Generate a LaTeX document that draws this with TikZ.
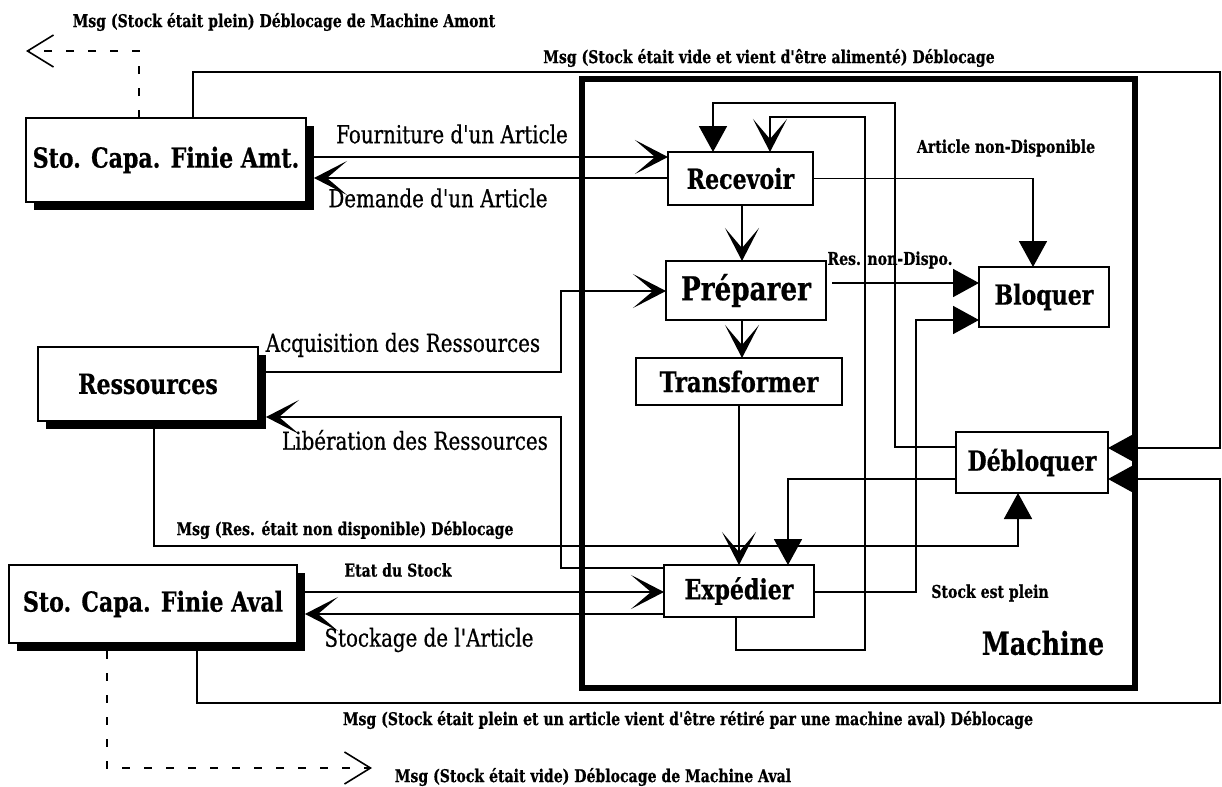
\documentclass[tikz,border=0pt]{standalone}
\usepackage{fontspec}
\newfontfamily\dvs{DejaVu Serif}[FakeStretch=0.8, FakeBold=0.6]
\usetikzlibrary{arrows.meta,shadows,calc}
\newcommand{\myboxfont}{\dvs\bfseries\fontsize{13.8}{16}\selectfont}
\newcommand{\mymedfont}{\dvs\fontsize{12.4}{14}\selectfont}
\newcommand{\mysmallfont}{\dvs\bfseries\fontsize{8.8}{10}\selectfont}
\begin{document}
\begin{tikzpicture}[x=0.5pt,y=-0.5pt,
  conn/.style={line width=0.9pt},
  chev/.style={-{Stealth[length=16.5pt,width=17pt,inset=10pt]}},
  tri/.style={-{Triangle[length=13pt,width=14pt]}},
  barb/.style={-{Straight Barb[length=13pt,width=16pt]}},
  dashline/.style={line width=0.8pt, dash pattern=on 4pt off 7pt},
  blk/.style={draw, line width=1pt, fill=white, inner sep=0pt, outer sep=0pt, font=\myboxfont},
  shad/.style={general shadow={fill=black, shadow xshift=4pt, shadow yshift=-4pt}},
  smalllab/.style={inner sep=0pt, font=\mysmallfont},
  medlab/.style={inner sep=0pt, font=\mymedfont}]
\useasboundingbox[fill=white] (0,0) rectangle (1222,787);

% machine frame
\node[draw, line width=3pt, inner sep=0pt, outer sep=0pt, minimum width=276.5pt, minimum height=304.5pt] (machine) at (858.5,383.5) {};

% boxes
\node[blk, shad, minimum width=140pt, minimum height=42pt] (amt) at (166,160) {Sto. Capa. Finie Amt.};
\node[blk, shad, minimum width=110pt, minimum height=37pt] (res) at (148,384) {Ressources};
\node[blk, shad, minimum width=144pt, minimum height=39pt] (aval) at (153,604) {Sto. Capa. Finie Aval};
\node[blk, minimum width=72.5pt, minimum height=26.5pt] (recv) at (740.5,178.5) {Recevoir};
\node[blk, minimum width=80pt, minimum height=29.5pt, font=\dvs\bfseries\fontsize{16.4}{18}\selectfont] (prep) at (746,290.5) {Préparer};
\node[blk, minimum width=103pt, minimum height=23.5pt, font=\dvs\bfseries\fontsize{14.2}{16}\selectfont] (trans) at (739,381.5) {Transformer};
\node[blk, minimum width=75pt, minimum height=26pt] (exped) at (739,591) {Expédier};
\node[blk, minimum width=65pt, minimum height=30pt] (bloq) at (1044,297) {Bloquer};
\node[blk, minimum width=76pt, minimum height=30.5pt] (debloq) at (1032,462.5) {Débloquer};

% connectors
\draw[conn,chev] (amt.east |- 0,157) -- (recv.west |- 0,157);
\draw[conn,chev] (recv.west |- 0,178) -- ($(amt.east |- 0,178)+(8,0)$);
\draw[conn,chev] (742,0 |- recv.south) -- (742,0 |- prep.north);
\draw[conn,chev] (742,0 |- prep.south) -- (742,0 |- trans.north);
\draw[conn,chev] (739,0 |- trans.south) -- (739,0 |- exped.north);
\draw[conn,tri] (recv.east) -| (1033,0 |- bloq.north);
\draw[conn,tri] ($(prep.east |- 0,283)+(6,0)$) -- (bloq.west |- 0,283);
\draw[conn,tri] (exped.east |- 0,592) -| (916,320) -- (bloq.west |- 0,320);
\draw[conn,tri] (debloq.west |- 0,447) -| (895,103) -| (713,0 |- recv.north);
\draw[conn,chev] (736,0 |- exped.south) |- (865,650) |- (770,117) -- (770,0 |- recv.north);
\draw[conn,tri] (debloq.west |- 0,479) -| (788,0 |- exped.north);
\draw[conn,chev] (res.east |- 0,372) -| (561,291) -- (prep.west |- 0,291);
\draw[conn,chev] (exped.west |- 0,568) -| (561,417) -- ($(res.east |- 0,417)+(8,0)$);
\draw[conn,tri] (154,0 |- res.south) |- (1018,546) -- (1018,0 |- debloq.south);
\draw[conn,chev] (aval.east |- 0,592) -- (exped.west |- 0,592);
\draw[conn,chev] (exped.west |- 0,614) -- ($(aval.east |- 0,614)+(8,0)$);
\draw[conn,tri] (197,0 |- aval.south) |- (1220,703) |- (debloq.east |- 0,479);
\draw[conn,tri] (193,0 |- amt.north) |- (1220,72) |- (debloq.east |- 0,448);
\coordinate (upend) at (26,51);
\coordinate (downend) at (372,768);
\draw[dashline,barb] (139,0 |- amt.north) |- (upend);
\draw[dashline,barb] ($(107,0 |- aval.south)+(0,8)$) |- (downend);

% labels
\node[smalllab] (ltitle) at (284,22) {Msg (Stock était plein) Déblocage de Machine Amont};
\node[smalllab] (lvide) at (769,58) {Msg (Stock était vide et vient d'être alimenté) Déblocage};
\node[medlab] (lfourn) at (452,134) {Fourniture d'un Article};
\node[medlab] (ldem) at (438,198) {Demande d'un Article};
\node[smalllab] (lart) at (1006,148) {Article non-Disponible};
\node[smalllab] (lres) at (890,260) {Res. non-Dispo.};
\node[medlab] (lacq) at (403,345) {Acquisition des Ressources};
\node[medlab] (llib) at (415,440) {Libération des Ressources};
\node[smalllab] (lmsgres) at (345,530) {Msg (Res. était non disponible) Déblocage};
\node[smalllab] (letat) at (398,570) {Etat du Stock};
\node[medlab] (lstock) at (429,640) {Stockage de l'Article};
\node[smalllab] (lplein) at (990,593) {Stock est plein};
\node[smalllab] (lretire) at (688,720) {Msg (Stock était plein et un article vient d'être rétiré par une machine aval) Déblocage};
\node[smalllab] (lvideaval) at (593,777) {Msg (Stock était vide) Déblocage de Machine Aval};
\node[inner sep=0pt, font=\dvs\bfseries\fontsize{15.8}{18}\selectfont] (lmachine) at (1043,643) {Machine};
\end{tikzpicture}
\end{document}
